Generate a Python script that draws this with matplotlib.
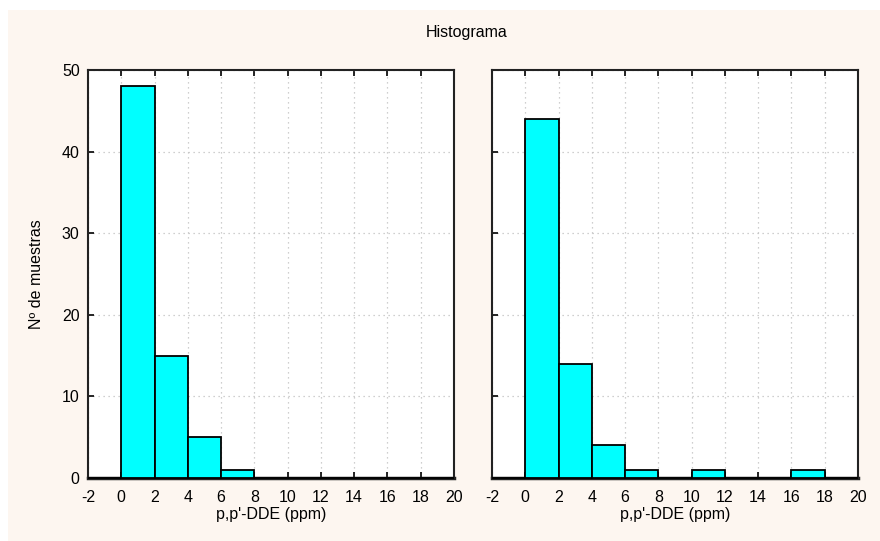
import numpy as np
import matplotlib
matplotlib.use('Agg')
import matplotlib.pyplot as plt
from matplotlib.patches import Rectangle

plt.rcParams['font.family'] = ['Liberation Sans', 'DejaVu Sans']
plt.rcParams['axes.unicode_minus'] = False

# histogram data
bin_edges = [-2, 0, 2, 4, 6, 8, 10, 12, 14, 16, 18, 20]
counts_left = [0, 48, 15, 5, 1, 0, 0, 0, 0, 0, 0]
counts_right = [0, 44, 14, 4, 1, 0, 1, 0, 0, 1, 0]
x_ticks = list(range(-2, 21, 2))
y_ticks = [0, 10, 20, 30, 40, 50]

W, H = 880, 541
fig = plt.figure(figsize=(W / 100, H / 100), dpi=100)
fig.patch.set_facecolor('#fdf6f0')
# thin white strips on the top and left edges
fig.patches.append(Rectangle((0, 0), 8 / W, 1, transform=fig.transFigure,
                             facecolor='white', edgecolor='none', zorder=-10))
fig.patches.append(Rectangle((0, 1 - 10 / H), 1, 10 / H, transform=fig.transFigure,
                             facecolor='white', edgecolor='none', zorder=-10))

def box(x0, y0, x1, y1):
    return [x0 / W, 1 - y1 / H, (x1 - x0) / W, (y1 - y0) / H]

ax1 = fig.add_axes(box(88, 70, 454, 478))
ax2 = fig.add_axes(box(492, 70, 858, 478))

for ax, counts in [(ax1, counts_left), (ax2, counts_right)]:
    left = np.array(bin_edges[:-1])
    widths = np.diff(bin_edges)
    ax.bar(left, counts, width=widths, align='edge', color='#00ffff',
           edgecolor='black', linewidth=1.3, zorder=3, clip_on=False)
    ax.set_xlim(-2, 20)
    ax.set_ylim(0, 50)
    ax.set_xticks(x_ticks)
    ax.set_yticks(y_ticks)
    ax.grid(True, color='#c0c0c0', linestyle=(0, (1, 3)), linewidth=0.9, zorder=0)
    ax.tick_params(direction='in', length=4, width=1.2, top=True, labelsize=11.5,
                   colors='black')
    ax.tick_params(axis='x', pad=9)
    ax.tick_params(axis='y', pad=6)
    for sp in ax.spines.values():
        sp.set_linewidth(1.5)
        sp.set_color('#222222')
    ax.spines['bottom'].set_linewidth(2.5)
    ax.set_xlabel("p,p'-DDE (ppm)", fontsize=11.5, labelpad=1)

ax2.tick_params(labelleft=False)
ax1.set_ylabel('Nº de muestras', fontsize=11.5, labelpad=13)

fig.text(467 / W, 1 - 32 / H, 'Histograma', ha='center', va='center', fontsize=11.5)

fig.savefig('out.png', dpi=100, facecolor=fig.get_facecolor())
